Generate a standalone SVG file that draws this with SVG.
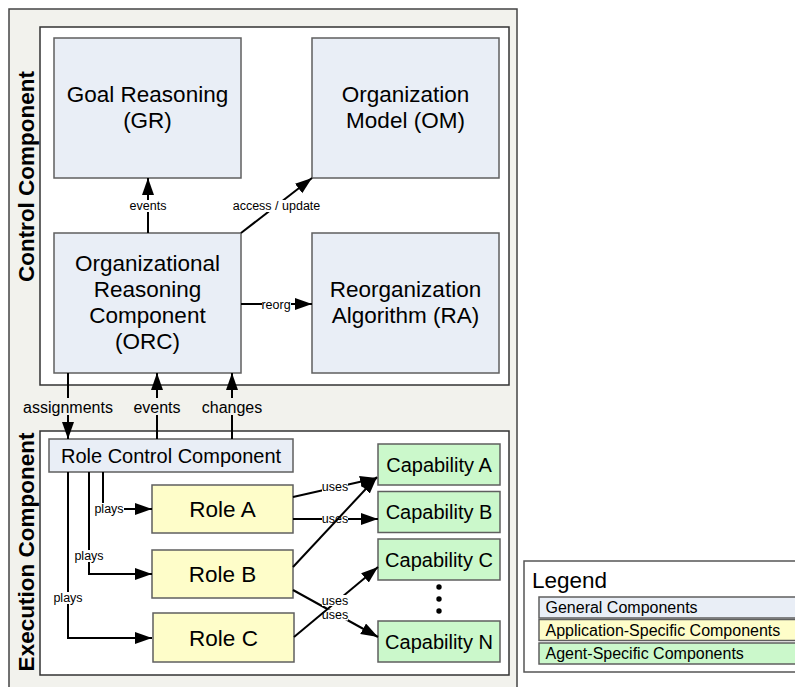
<svg xmlns="http://www.w3.org/2000/svg" width="795" height="687" viewBox="0 0 795 687">
<style>
text{font-family:"Liberation Sans",Arial,sans-serif;fill:#000}
.big{font-size:22.5px;text-anchor:middle}
.mid{font-size:20px;text-anchor:middle}
.sm{font-size:12.5px;text-anchor:middle}
.lb{font-size:16px;text-anchor:middle}
.side{font-size:22.5px;font-weight:bold;text-anchor:middle}
.gen{fill:#e9eef6;stroke:#5f5f5f;stroke-width:1.5}
.app{fill:#fefdc9;stroke:#5f5f5f;stroke-width:1.5}
.agt{fill:#cbf8cb;stroke:#5f5f5f;stroke-width:1.5}
.edge{fill:none;stroke:#000;stroke-width:2;marker-end:url(#arr)}
.wbg{fill:#fff}
.fbg{fill:#f2f2ed}
</style>
<defs>
<marker id="arr" markerUnits="userSpaceOnUse" markerWidth="18" markerHeight="13" refX="17" refY="6" orient="auto">
<path d="M0,0 L17,6 L0,12 z" fill="#000"/>
</marker>
</defs>
<rect x="9" y="9" width="508" height="700" fill="#f2f2ed" stroke="#444" stroke-width="1.5"/>
<g id="control-component">
<rect x="40" y="27" width="469" height="358" fill="#fff" stroke="#333" stroke-width="1.5"/>
<text class="side" transform="translate(34,176.5) rotate(-90)">Control Component</text>
</g>
<g id="execution-component">
<rect x="40" y="431" width="469" height="244" fill="#fff" stroke="#333" stroke-width="1.5"/>
<text class="side" transform="translate(34,552) rotate(-90)">Execution Component</text>
</g>
<g id="gr"><rect class="gen" x="54" y="38" width="187" height="140"/><text class="big" x="147.5" y="102">Goal Reasoning</text><text class="big" x="147.5" y="128">(GR)</text></g>
<g id="om"><rect class="gen" x="312" y="38" width="187" height="140"/><text class="big" x="405.5" y="102">Organization</text><text class="big" x="405.5" y="128">Model (OM)</text></g>
<g id="orc"><rect class="gen" x="54" y="233" width="187" height="140"/><text class="big" x="147.5" y="271">Organizational</text><text class="big" x="147.5" y="297">Reasoning</text><text class="big" x="147.5" y="323">Component</text><text class="big" x="147.5" y="349">(ORC)</text></g>
<g id="ra"><rect class="gen" x="312" y="233" width="187" height="140"/><text class="big" x="405.5" y="297">Reorganization</text><text class="big" x="405.5" y="323">Algorithm (RA)</text></g>
<g id="rcc"><rect class="gen" x="49" y="439" width="244" height="33"/><text class="mid" x="171" y="463">Role Control Component</text></g>
<g id="role-a"><rect class="app" x="152" y="485" width="141" height="48"/><text class="big" x="222.5" y="517">Role A</text></g>
<g id="role-b"><rect class="app" x="152" y="550" width="141" height="48"/><text class="big" x="222.5" y="582">Role B</text></g>
<g id="role-c"><rect class="app" x="153" y="613" width="141" height="49"/><text class="big" x="223.5" y="645.5">Role C</text></g>
<g id="cap-a"><rect class="agt" x="378" y="444" width="122" height="41"/><text class="mid" x="439" y="471.5">Capability A</text></g>
<g id="cap-b"><rect class="agt" x="378" y="491.5" width="122" height="41"/><text class="mid" x="439" y="519">Capability B</text></g>
<g id="cap-c"><rect class="agt" x="378" y="539" width="122" height="41"/><text class="mid" x="439" y="566.5">Capability C</text></g>
<g id="ellipsis"><circle cx="439" cy="587" r="2.7"/><circle cx="439" cy="599" r="2.7"/><circle cx="439" cy="611" r="2.7"/></g>
<g id="cap-n"><rect class="agt" x="378" y="621" width="122" height="41"/><text class="mid" x="439" y="648.5">Capability N</text></g>
<g id="connectors">
<path class="edge" d="M148,233 V178"/>
<rect class="wbg" x="129" y="200" width="38" height="12"/><text class="sm" x="148" y="210">events</text>
<path class="edge" d="M241,233 L312,178"/>
<rect class="wbg" x="236" y="200" width="81" height="12"/><text class="sm" x="276.5" y="210">access / update</text>
<path class="edge" d="M241,304 H312"/>
<rect class="wbg" x="262" y="298" width="29" height="12"/><text class="sm" x="276" y="308.5">reorg</text>
<path class="edge" d="M68,373 V439"/>
<rect class="fbg" x="21" y="398" width="94" height="17"/><text class="lb" x="68" y="412.5">assignments</text>
<path class="edge" d="M157,439 V373"/>
<rect class="fbg" x="133" y="398" width="48" height="17"/><text class="lb" x="157" y="412.5">events</text>
<path class="edge" d="M232,439 V373"/>
<rect class="fbg" x="201" y="398" width="62" height="17"/><text class="lb" x="232" y="412.5">changes</text>
<path class="edge" d="M103,472 V509 H152"/>
<rect class="wbg" x="94" y="503" width="30" height="12"/><text class="sm" x="109" y="513">plays</text>
<path class="edge" d="M89,472 V574 H152"/>
<rect class="wbg" x="74" y="550" width="30" height="12"/><text class="sm" x="89" y="560">plays</text>
<path class="edge" d="M68,472 V638 H152"/>
<rect class="wbg" x="53" y="592" width="30" height="12"/><text class="sm" x="68" y="602">plays</text>
<path class="edge" d="M293,497 L377,478"/>
<rect class="wbg" x="322" y="481" width="26" height="11"/><text class="sm" x="335" y="490.5">uses</text>
<path class="edge" d="M293,519 H378"/>
<rect class="wbg" x="322" y="513.5" width="26" height="11"/><text class="sm" x="335" y="523">uses</text>
<path class="edge" d="M293,567 L377,477"/>
<path class="edge" d="M293,590 L378,637"/>
<rect class="wbg" x="322" y="609.5" width="26" height="11"/><text class="sm" x="335" y="619">uses</text>
<path class="edge" d="M294,637 L378,567"/>
<rect class="wbg" x="322" y="595" width="26" height="11"/><text class="sm" x="335" y="604.5">uses</text>
</g>
<g id="legend">
<rect x="524" y="561" width="300" height="111" fill="#fff" stroke="#555" stroke-width="1.5"/>
<text x="532" y="588" style="font-size:22.5px">Legend</text>
<rect class="gen" x="539" y="597" width="300" height="21"/><text x="545.5" y="613" style="font-size:16px">General Components</text>
<rect class="app" x="539" y="619.5" width="300" height="21"/><text x="545.5" y="636" style="font-size:16px">Application-Specific Components</text>
<rect class="agt" x="539" y="643" width="300" height="21"/><text x="545.5" y="659" style="font-size:16px">Agent-Specific Components</text>
</g>
</svg>
